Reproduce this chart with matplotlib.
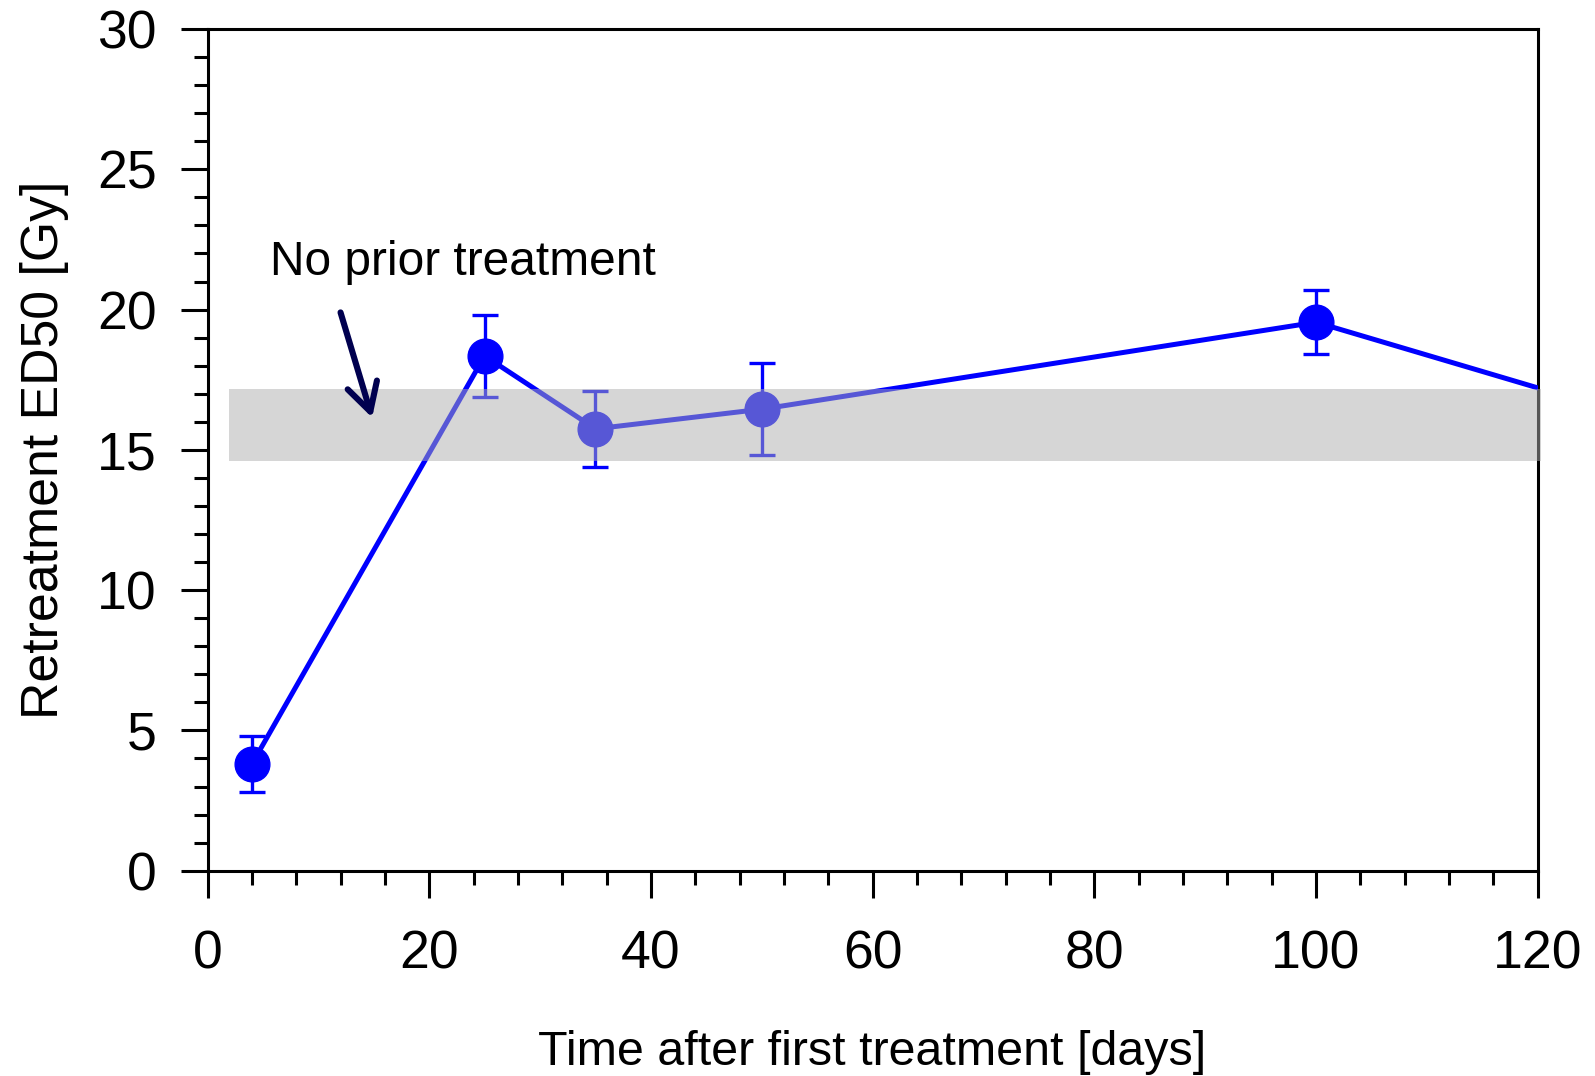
import matplotlib
matplotlib.use("Agg")
import matplotlib.pyplot as plt
from matplotlib.ticker import MultipleLocator

plt.rcParams["font.family"] = ["Liberation Sans", "DejaVu Sans"]

# retreatment ED50 vs time after first treatment
days = [4, 25, 35, 50, 100, 150]
ed50 = [3.8, 18.35, 15.75, 16.45, 19.55, 13.7]
ed50_err = [1.0, 1.45, 1.35, 1.65, 1.15, 1.2]

# ED50 range with no prior treatment
band_days = [1.95, 120.3]
band_lo = 14.6
band_hi = 17.17

# annotation arrow (start -> tip) and label
arrow_start = (12.0, 19.9)
arrow_tip = (14.85, 16.15)
label_pos = (5.6, 21.25)

fig = plt.figure(figsize=(15.95, 10.76), dpi=100)
ax = fig.add_axes([0.1301, 0.1908, 0.8340, 0.7822])

ax.errorbar(days, ed50, yerr=ed50_err, color="#0000ff", lw=3.6,
            marker="o", markersize=25, elinewidth=2.4, capsize=9.7,
            capthick=2.4, zorder=3)

ax.fill_between(band_days, band_lo, band_hi, color="#aeaeae", alpha=0.5,
                lw=0, zorder=5, clip_on=False)

ax.annotate("", xy=arrow_tip, xytext=arrow_start, zorder=6,
            arrowprops=dict(arrowstyle="->,head_length=1.0,head_width=0.55",
                            color="#00004f", lw=4.4, mutation_scale=20,
                            shrinkA=0, shrinkB=0))
ax.text(label_pos[0], label_pos[1], "No prior treatment", fontsize=34.5,
        ha="left", va="baseline")

ax.set_xlim(0, 120)
ax.set_ylim(0, 30)
ax.xaxis.set_major_locator(MultipleLocator(20))
ax.xaxis.set_minor_locator(MultipleLocator(4))
ax.yaxis.set_major_locator(MultipleLocator(5))
ax.yaxis.set_minor_locator(MultipleLocator(1))

for s in ax.spines.values():
    s.set_linewidth(2.2)

ax.tick_params(which="both", direction="out", width=2.2, top=False, right=False)
ax.tick_params(which="major", length=19.4, labelsize=38.5)
ax.tick_params(axis="x", which="major", pad=23)
ax.tick_params(axis="y", which="major", pad=17)
ax.tick_params(which="minor", length=10)

ax.set_xlabel("Time after first treatment [days]", fontsize=34.8, labelpad=36)
ax.set_ylabel("Retreatment ED50 [Gy]", fontsize=37.3, labelpad=20)

fig.savefig("out.png", dpi=100)
